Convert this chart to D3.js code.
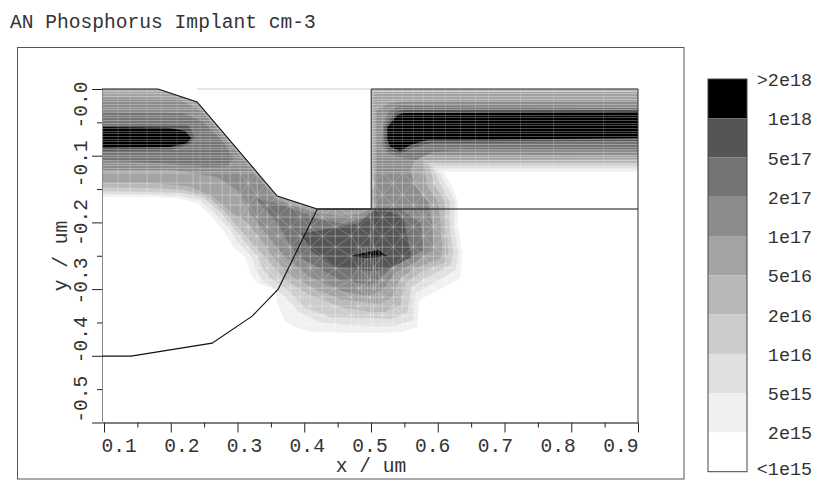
<!DOCTYPE html>
<html>
<head>
<meta charset="utf-8">
<script src="https://cdn.jsdelivr.net/npm/d3@7/dist/d3.min.js"></script>
<style>
html, body { margin: 0; padding: 0; background: #fff; }
text { font-family: "Liberation Mono", monospace; fill: #333; }
</style>
</head>
<body>
<svg id="chart" width="818" height="480"></svg>
<script>
// everything below is in um
var xMajor = [0.1, 0.2, 0.3, 0.4, 0.5, 0.6, 0.7, 0.8, 0.9];
var xMinor = [0.15, 0.25, 0.35, 0.45, 0.55, 0.65, 0.75, 0.85];
var yMajor = [0, -0.1, -0.2, -0.3, -0.4, -0.5];
var yMinor = [-0.05, -0.15, -0.25, -0.35, -0.45];

// the printed labels do not sit on the ticks in the original, they drift
var xLabels = ["0.1", "0.2", "0.3", "0.4", "0.5", "0.6", "0.7", "0.8", "0.9"];
var xLabelAt = [0.1225, 0.2165, 0.3105, 0.4045, 0.4985, 0.5925, 0.6865, 0.7805, 0.8745];
var yLabels = ["-0.0", "-0.1", "-0.2", "-0.3", "-0.4", "-0.5"];
var yLabelAt = [-0.024, -0.112, -0.2, -0.288, -0.376, -0.465];

var legendLabels = [">2e18", "1e18", "5e17", "2e17", "1e17", "5e16", "2e16", "1e16", "5e15", "2e15", "<1e15"];
var legendGrays = ["#000000", "#555555", "#747474", "#8c8c8c", "#a3a3a3", "#b8b8b8", "#cccccc", "#e0e0e0", "#f0f0f0", "#ffffff"];

// silicon surface, used as the outline and as the clip of the doping
var surface = [[0.097, 0], [0.181, 0], [0.2395, -0.0195], [0.3595, -0.1605], [0.4195, -0.18], [0.5005, -0.18], [0.5005, 0], [0.9, 0]];
var oxideEdge = [[0.4195, -0.18], [0.361, -0.3], [0.322, -0.3405], [0.262, -0.381], [0.1405, -0.4005], [0.097, -0.4005]];
var floorLine = [[0.4195, -0.18], [0.9, -0.18]];

var openTop = [[0.905, 0.01], [0.09, 0.01]];

var band5e15 = [[[0.09, -0.162], [0.169, -0.162], [0.2095, -0.1635], [0.2395, -0.171], [0.259, -0.189], [0.2815, -0.216], [0.2935, -0.237], [0.3115, -0.252], [0.319, -0.276], [0.3295, -0.291], [0.3565, -0.3015], [0.3595, -0.321], [0.3715, -0.3495], [0.391, -0.3585], [0.4135, -0.3645], [0.4945, -0.366], [0.547, -0.3645], [0.5695, -0.357], [0.5725, -0.3165], [0.601, -0.3015], [0.634, -0.2835], [0.637, -0.246], [0.6295, -0.201], [0.631, -0.171], [0.6205, -0.144], [0.6085, -0.1245], [0.905, -0.1245]].concat(openTop)];
var band1e16 = [[[0.09, -0.1575], [0.169, -0.159], [0.214, -0.1605], [0.244, -0.1665], [0.265, -0.186], [0.289, -0.2115], [0.301, -0.231], [0.322, -0.252], [0.328, -0.2715], [0.337, -0.2865], [0.3685, -0.309], [0.394, -0.336], [0.424, -0.3495], [0.4615, -0.354], [0.499, -0.3555], [0.5365, -0.3555], [0.5635, -0.3465], [0.5665, -0.306], [0.589, -0.294], [0.6265, -0.2715], [0.631, -0.246], [0.6235, -0.201], [0.6265, -0.171], [0.613, -0.144], [0.5995, -0.12], [0.905, -0.12]].concat(openTop)];
var band2e16 = [[[0.09, -0.153], [0.169, -0.1545], [0.217, -0.156], [0.25, -0.1635], [0.274, -0.1845], [0.2965, -0.2115], [0.3085, -0.2265], [0.331, -0.252], [0.337, -0.2685], [0.349, -0.2835], [0.379, -0.3045], [0.4015, -0.3285], [0.439, -0.342], [0.499, -0.3435], [0.529, -0.345], [0.5545, -0.336], [0.5605, -0.297], [0.5815, -0.2835], [0.619, -0.264], [0.6235, -0.246], [0.6175, -0.201], [0.619, -0.171], [0.604, -0.144], [0.592, -0.1155], [0.905, -0.1155]].concat(openTop)];
var band5e16 = [[[0.09, -0.147], [0.169, -0.1485], [0.2215, -0.1515], [0.256, -0.162], [0.2815, -0.1845], [0.307, -0.2145], [0.3415, -0.252], [0.3715, -0.2865], [0.409, -0.309], [0.454, -0.327], [0.499, -0.3345], [0.5215, -0.3345], [0.544, -0.324], [0.5515, -0.291], [0.574, -0.2745], [0.6115, -0.2595], [0.616, -0.246], [0.6115, -0.201], [0.6115, -0.171], [0.595, -0.144], [0.586, -0.111], [0.905, -0.111]].concat(openTop)];
var band1e17 = [[[0.09, -0.003], [0.184, -0.003], [0.241, -0.015], [0.3595, -0.1515], [0.5035, -0.1515], [0.5035, -0.0045], [0.905, -0.0045], [0.905, -0.105], [0.5785, -0.1065], [0.583, -0.144], [0.601, -0.171], [0.604, -0.201], [0.607, -0.246], [0.604, -0.2535], [0.5665, -0.2685], [0.544, -0.2835], [0.532, -0.312], [0.511, -0.3225], [0.454, -0.315], [0.409, -0.297], [0.379, -0.279], [0.3535, -0.252], [0.316, -0.201], [0.292, -0.186], [0.262, -0.1605], [0.226, -0.1455], [0.169, -0.141], [0.09, -0.141]]];
var band2e17 = [[[0.09, -0.0135], [0.211, -0.015], [0.244, -0.0315], [0.319, -0.1185], [0.3595, -0.1665], [0.394, -0.1785], [0.4195, -0.186], [0.454, -0.1905], [0.484, -0.1875], [0.508, -0.177], [0.508, -0.0315], [0.529, -0.021], [0.5515, -0.018], [0.905, -0.018], [0.905, -0.099], [0.5695, -0.099], [0.559, -0.1215], [0.565, -0.144], [0.586, -0.171], [0.592, -0.201], [0.5935, -0.2415], [0.559, -0.264], [0.5365, -0.2745], [0.5185, -0.3], [0.499, -0.3105], [0.454, -0.303], [0.409, -0.282], [0.3715, -0.252], [0.3295, -0.201], [0.319, -0.186], [0.2995, -0.1515], [0.2695, -0.132], [0.2035, -0.1215], [0.09, -0.1215]]];
var band5e17 = [
    [[0.09, -0.0345], [0.2185, -0.036], [0.2485, -0.0495], [0.2785, -0.0795], [0.2935, -0.1035], [0.286, -0.1155], [0.2545, -0.117], [0.1795, -0.111], [0.09, -0.1065]],
    [[0.5185, -0.054], [0.526, -0.0345], [0.541, -0.0255], [0.905, -0.0285], [0.905, -0.0915], [0.634, -0.0915], [0.592, -0.0945], [0.568, -0.1065], [0.547, -0.1035], [0.526, -0.0975], [0.5155, -0.084]],
    [[0.3265, -0.1635], [0.3715, -0.1755], [0.421, -0.195], [0.4615, -0.2025], [0.487, -0.195], [0.505, -0.18], [0.544, -0.18], [0.574, -0.201], [0.5785, -0.2415], [0.5515, -0.2565], [0.529, -0.2685], [0.511, -0.2865], [0.499, -0.294], [0.454, -0.2865], [0.409, -0.261], [0.3895, -0.252], [0.3595, -0.201]]
];
var band1e18 = [
    [[0.09, -0.054], [0.226, -0.054], [0.2365, -0.072], [0.229, -0.0825], [0.199, -0.0915], [0.09, -0.093]],
    [[0.52, -0.057], [0.5365, -0.0345], [0.5485, -0.0315], [0.905, -0.0315], [0.905, -0.078], [0.634, -0.081], [0.589, -0.081], [0.562, -0.0885], [0.544, -0.0975], [0.526, -0.0915], [0.52, -0.0795]],
    [[0.394, -0.216], [0.409, -0.2145], [0.4435, -0.2085], [0.484, -0.201], [0.5035, -0.183], [0.529, -0.1845], [0.5485, -0.1935], [0.5605, -0.252], [0.529, -0.2685], [0.499, -0.273], [0.4435, -0.267], [0.424, -0.252], [0.409, -0.2415]]
];
var band2e18 = [
    [[0.09, -0.057], [0.199, -0.0585], [0.2215, -0.063], [0.2305, -0.0735], [0.2245, -0.081], [0.199, -0.087], [0.09, -0.0885]],
    [[0.5245, -0.057], [0.5395, -0.039], [0.5485, -0.036], [0.905, -0.0345], [0.905, -0.0735], [0.634, -0.0765], [0.5845, -0.0765], [0.559, -0.084], [0.544, -0.093], [0.529, -0.087], [0.5245, -0.0765]],
    [[0.469, -0.2505], [0.4945, -0.2445], [0.511, -0.2415], [0.5245, -0.2505], [0.4945, -0.2535]]
];

// simulation mesh
var meshX = [0.121, 0.139, 0.1645, 0.1855, 0.2095, 0.2335, 0.244, 0.259, 0.277, 0.289, 0.304, 0.316, 0.3295, 0.3445, 0.361, 0.379, 0.394, 0.409, 0.427, 0.4465, 0.4705, 0.481, 0.499, 0.5035, 0.517, 0.5335, 0.547, 0.5635, 0.5785, 0.5935, 0.6115, 0.634, 0.6565, 0.676, 0.724, 0.7735, 0.8485];
var meshY = [-0.126, -0.141, -0.159, -0.174, -0.192, -0.207, -0.2205, -0.237, -0.2505, -0.2685, -0.2865, -0.2985, -0.312, -0.3255, -0.339, -0.3525];
var meshYFine = [-0.003, -0.007, -0.011, -0.015, -0.019, -0.023, -0.027, -0.031, -0.035, -0.039, -0.043, -0.047, -0.051, -0.055, -0.059, -0.063, -0.067, -0.071, -0.075, -0.079, -0.083, -0.087, -0.091, -0.095, -0.099, -0.103, -0.107, -0.111, -0.115, -0.119, -0.123];
var meshXFine = [0.486, 0.491, 0.495, 0.507, 0.512];

var svg = d3.select("#chart");

var x = d3.scaleLinear().domain([0.097, 0.9]).range([102, 638]);
var y = d3.scaleLinear().domain([0, -0.5]).range([89, 422.5]);
var line = d3.line().x(d => x(d[0])).y(d => y(d[1]));

// frame and title
svg.append("rect")
    .attr("x", 17.5).attr("y", 47.5)
    .attr("width", 666.5).attr("height", 431.5)
    .attr("fill", "none").attr("stroke", "#555").attr("stroke-width", 1);

svg.append("text").attr("x", 10).attr("y", 28)
    .attr("font-size", 19.6)
    .text("AN Phosphorus Implant cm-3");

// doping bands, lightest first, each one painted over the last
var clipOutline = surface.concat([[0.9, -0.5], [0.097, -0.5]]);
svg.append("clipPath").attr("id", "silicon")
    .append("path").attr("d", line(clipOutline) + "Z");

var field = svg.append("g").attr("clip-path", "url(#silicon)");

var bands = [
    { gray: legendGrays[8], polys: band5e15 },
    { gray: legendGrays[7], polys: band1e16 },
    { gray: legendGrays[6], polys: band2e16 },
    { gray: legendGrays[5], polys: band5e16 },
    { gray: legendGrays[4], polys: band1e17 },
    { gray: legendGrays[3], polys: band2e17 },
    { gray: legendGrays[2], polys: band5e17 },
    { gray: legendGrays[1], polys: band1e18 },
    { gray: legendGrays[0], polys: band2e18 }
];
bands.forEach(function(band) {
    field.append("g").selectAll("path")
        .data(band.polys)
        .enter()
        .append("path")
        .attr("d", d => line(d) + "Z")
        .attr("fill", band.gray);
});

// mesh in white, so it fades out by itself on the light bands
var mesh = field.append("g").attr("stroke", "#fff").attr("fill", "none");

mesh.selectAll(".fine")
    .data(meshYFine)
    .enter()
    .append("line")
    .attr("class", "fine")
    .attr("x1", x(0.097)).attr("x2", x(0.9))
    .attr("y1", d => y(d)).attr("y2", d => y(d))
    .attr("shape-rendering", "crispEdges")
    .attr("stroke-opacity", 0.3);

mesh.selectAll(".rowY")
    .data(meshY)
    .enter()
    .append("line")
    .attr("class", "rowY")
    .attr("x1", x(0.097)).attr("x2", x(0.9))
    .attr("y1", d => y(d)).attr("y2", d => y(d))
    .attr("stroke-opacity", 0.36);

// columns are faint up in the dense layer and plainer further down
mesh.selectAll(".colTop")
    .data(meshX)
    .enter()
    .append("line")
    .attr("class", "colTop")
    .attr("x1", d => x(d)).attr("x2", d => x(d))
    .attr("y1", y(0)).attr("y2", y(-0.126))
    .attr("stroke-opacity", 0.16);

mesh.selectAll(".colLow")
    .data(meshX)
    .enter()
    .append("line")
    .attr("class", "colLow")
    .attr("x1", d => x(d)).attr("x2", d => x(d))
    .attr("y1", y(-0.126)).attr("y2", y(-0.37))
    .attr("stroke-opacity", 0.32);

mesh.selectAll(".colFine")
    .data(meshXFine)
    .enter()
    .append("line")
    .attr("class", "colFine")
    .attr("x1", d => x(d)).attr("x2", d => x(d))
    .attr("y1", y(-0.237)).attr("y2", y(-0.3255))
    .attr("stroke-opacity", 0.3);

// triangles: one diagonal per mesh cell, flipping direction like the original grid
var diagonals = [];
for (let i = 0; i < meshX.length - 1; i++) {
    for (let j = 0; j < meshY.length - 1; j++) {
        if (meshX[i] < 0.3 || meshX[i] > 0.62) continue;
        let flip = (i + j) % 2 == 0;
        diagonals.push([
            [meshX[i], flip ? meshY[j] : meshY[j + 1]],
            [meshX[i + 1], flip ? meshY[j + 1] : meshY[j]]
        ]);
    }
}
mesh.selectAll(".tri")
    .data(diagonals)
    .enter()
    .append("path")
    .attr("class", "tri")
    .attr("d", line)
    .attr("stroke-opacity", 0.22);

// axes
function styleAxis(g, color) {
    g.selectAll("line").attr("stroke", "#222");
    g.select(".domain").attr("stroke", color);
}
svg.append("g").attr("transform", "translate(0,422.5)")
    .call(d3.axisBottom(x).tickValues(xMajor).tickSize(10).tickSizeOuter(0).tickFormat(""))
    .call(styleAxis, "#555");
svg.append("g").attr("transform", "translate(0,422.5)")
    .call(d3.axisBottom(x).tickValues(xMinor).tickSize(5).tickSizeOuter(0).tickFormat(""))
    .call(styleAxis, "#555");
svg.append("g").attr("transform", "translate(102,0)")
    .call(d3.axisLeft(y).tickValues(yMajor).tickSize(10).tickSizeOuter(0).tickFormat(""))
    .call(styleAxis, "#888");
svg.append("g").attr("transform", "translate(102,0)")
    .call(d3.axisLeft(y).tickValues(yMinor).tickSize(5).tickSizeOuter(0).tickFormat(""))
    .call(styleAxis, "#888");

svg.selectAll(".xLab")
    .data(xLabels)
    .enter()
    .append("text")
    .attr("class", "xLab")
    .attr("x", (d, i) => x(xLabelAt[i]))
    .attr("y", 452)
    .attr("text-anchor", "middle")
    .attr("font-size", 19.6)
    .text(d => d);

svg.selectAll(".yLab")
    .data(yLabels)
    .enter()
    .append("text")
    .attr("class", "yLab")
    .attr("transform", (d, i) => "translate(87," + y(yLabelAt[i]) + ") rotate(-90)")
    .attr("text-anchor", "middle")
    .attr("font-size", 19.6)
    .text(d => d);

svg.append("text").attr("x", 371).attr("y", 472)
    .attr("text-anchor", "middle").attr("font-size", 19.6)
    .text("x / um");
svg.append("text")
    .attr("transform", "translate(67,256) rotate(-90)")
    .attr("text-anchor", "middle").attr("font-size", 19.6)
    .text("y / um");

// outline of the structure goes on top of the mesh
var outline = svg.append("g").attr("fill", "none");
outline.append("line")
    .attr("x1", x(0.2395)).attr("x2", x(0.9))
    .attr("y1", y(0)).attr("y2", y(0))
    .attr("stroke", "#ccc");
outline.append("line")
    .attr("x1", x(0.9)).attr("x2", x(0.9))
    .attr("y1", y(0)).attr("y2", y(-0.5))
    .attr("stroke", "#333");
outline.append("path").attr("d", line(surface.slice(0, 5))).attr("stroke", "#111").attr("stroke-width", 1.1);
outline.append("path").attr("d", line(surface.slice(4, 7))).attr("stroke", "#555").attr("stroke-width", 1.4);
outline.append("path").attr("d", line(surface.slice(6))).attr("stroke", "#333").attr("stroke-width", 1.2);
outline.append("path").attr("d", line(floorLine)).attr("stroke", "#111").attr("stroke-width", 1.1);
outline.append("path").attr("d", line(oxideEdge)).attr("stroke", "#111").attr("stroke-width", 1.1);

// legend
var legendY = d3.scaleLinear().domain([0, 10]).range([79, 471.7]);
svg.selectAll(".key")
    .data(legendGrays)
    .enter()
    .append("rect")
    .attr("class", "key")
    .attr("x", 708).attr("width", 39)
    .attr("y", (d, i) => legendY(i))
    .attr("height", (d, i) => legendY(i + 1) - legendY(i))
    .attr("fill", d => d);
svg.append("rect")
    .attr("x", 708).attr("width", 39)
    .attr("y", legendY(0)).attr("height", legendY(10) - legendY(0))
    .attr("fill", "none").attr("stroke", "#444");
// last label pulled up a little or it runs off the bottom of the page
svg.selectAll(".keyLab")
    .data(legendLabels)
    .enter()
    .append("text")
    .attr("class", "keyLab")
    .attr("x", 812)
    .attr("y", (d, i) => Math.min(legendY(i) + 7, 474.5))
    .attr("text-anchor", "end")
    .attr("font-size", 18.4)
    .text(d => d);
</script>
</body>
</html>
